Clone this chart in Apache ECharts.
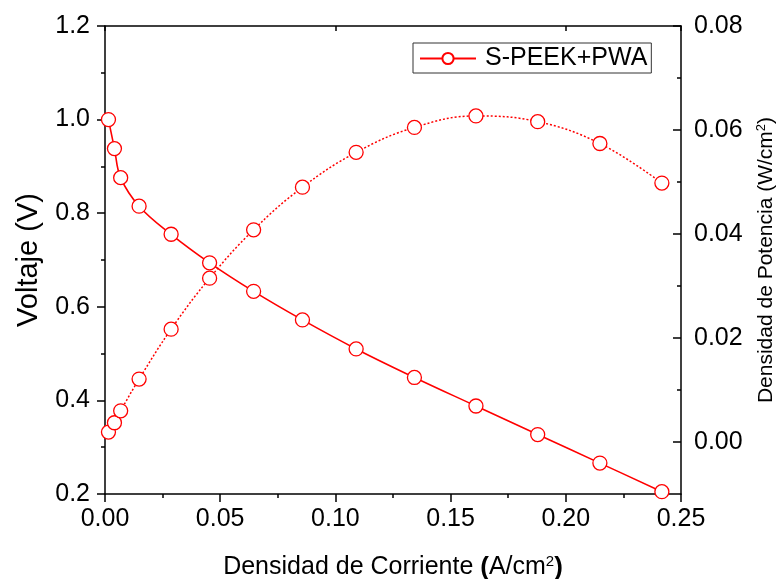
<!DOCTYPE html>
<html>
<head>
<meta charset="utf-8">
<script src="https://cdn.jsdelivr.net/npm/echarts@6/dist/echarts.min.js"></script>
<style>html,body{margin:0;padding:0;background:#fff;}#c{width:777px;height:579px;}</style>
</head>
<body>
<div id="c"></div>
<script>
// current density (A/cm2)
var currentDensity = [0.0015, 0.0041, 0.0068, 0.0148, 0.0287, 0.0454, 0.0645, 0.0857, 0.109, 0.1343, 0.161, 0.1878, 0.2148, 0.2417];
// voltage (V)
var voltage = [1.0, 0.938, 0.876, 0.815, 0.755, 0.694, 0.633, 0.572, 0.510, 0.449, 0.388, 0.327, 0.266, 0.205];
// power density (W/cm2)
var powerDensity = [0.0019, 0.0037, 0.006, 0.0121, 0.0217, 0.0315, 0.0408, 0.049, 0.0557, 0.0605, 0.0627, 0.0616, 0.0574, 0.0498];
var seriesName = 'S-PEEK+PWA';
var rightMajorTicks = [0, 0.02, 0.04, 0.06, 0.08];
var rightMinorTicks = [0.01, 0.03, 0.05, 0.07];

var FONT = '"Liberation Sans", Arial, sans-serif';
var RED = '#ff0000';

function pairs(xs, ys) { return xs.map(function (x, i) { return [x, ys[i]]; }); }
function aLine() { return { show: true, onZero: false, lineStyle: { color: '#000', width: 1.5 } }; }

var chart = echarts.init(document.getElementById('c'), null, { renderer: 'canvas' });
var option = {
  backgroundColor: '#fff',
  animation: false,
  grid: { left: 105, right: 96, top: 26, bottom: 85, containLabel: false, outerBoundsMode: 'none' },
  legend: {
    data: [seriesName],
    left: 413, top: 43,
    itemWidth: 56, itemHeight: 14, itemGap: 0,
    padding: [3, 4, 2, 6],
    borderColor: '#333', borderWidth: 1,
    textStyle: { fontFamily: FONT, fontSize: 25, color: '#000', padding: [2, 0, 0, 4] }
  },
  xAxis: [{
    type: 'value', min: 0, max: 0.25, interval: 0.05, position: 'bottom',
    axisLine: aLine(),
    axisTick: { show: true, inside: false, length: 8, lineStyle: { color: '#000', width: 1.5 } },
    minorTick: { show: true, splitNumber: 2, length: 4, lineStyle: { color: '#000', width: 1.5 } },
    splitLine: { show: false },
    axisLabel: { fontFamily: FONT, fontSize: 25, color: '#000', margin: 13,
      formatter: function (v) { return v.toFixed(2); } },
    name: 'Densidad de Corriente {b|(}A/cm{sup|2}{b|)}',
    nameLocation: 'middle', nameGap: 60,
    nameTextStyle: { fontFamily: FONT, fontSize: 25, color: '#000',
      rich: {
        b: { fontFamily: FONT, fontSize: 26, fontWeight: 'bold', color: '#000' },
        sup: { fontFamily: FONT, fontSize: 15, color: '#000', verticalAlign: 'top', padding: [0, 0, 12, 0] }
      } }
  }, {
    type: 'value', min: 0, max: 0.25, interval: 0.1, position: 'top',
    axisLine: aLine(),
    axisTick: { show: true, inside: true, length: 5, lineStyle: { color: '#000', width: 1.5 } },
    axisLabel: { show: false }, splitLine: { show: false }
  }],
  yAxis: [{
    type: 'value', min: 0.2, max: 1.2, interval: 0.2, position: 'left',
    axisLine: aLine(),
    axisTick: { show: true, inside: false, length: 8, lineStyle: { color: '#000', width: 1.5 } },
    minorTick: { show: true, splitNumber: 2, length: 4, lineStyle: { color: '#000', width: 1.5 } },
    splitLine: { show: false },
    axisLabel: { fontFamily: FONT, fontSize: 25, color: '#000', margin: 15,
      formatter: function (v) { return v.toFixed(1); } },
    name: 'Voltaje (V)', nameLocation: 'middle', nameGap: 62, nameRotate: 90,
    nameTextStyle: { fontFamily: FONT, fontSize: 29, color: '#000' }
  }, {
    type: 'value', min: -0.01, max: 0.08, interval: 0.01, position: 'right',
    axisLine: aLine(),
    axisTick: { show: true, inside: true, length: 8, customValues: rightMajorTicks,
      lineStyle: { color: '#000', width: 1.5 } },
    splitLine: { show: false },
    axisLabel: { fontFamily: FONT, fontSize: 25, color: '#000', margin: 13, customValues: rightMajorTicks,
      formatter: function (v) { return v.toFixed(2); } },
    name: 'Densidad de Potencia (W/cm{sup|2})', nameLocation: 'middle', nameGap: 74, nameRotate: 90,
    nameTextStyle: { fontFamily: FONT, fontSize: 21, color: '#000',
      rich: { sup: { fontFamily: FONT, fontSize: 13, color: '#000', verticalAlign: 'top', padding: [0, 0, 10, 0] } } }
  }, {
    type: 'value', min: -0.01, max: 0.08, interval: 0.01, position: 'right',
    axisLine: { show: false, onZero: false },
    axisTick: { show: true, inside: true, length: 4, customValues: rightMinorTicks,
      lineStyle: { color: '#000', width: 1.5 } },
    splitLine: { show: false },
    axisLabel: { show: false }
  }],
  series: [{
    name: seriesName, type: 'line', xAxisIndex: 0, yAxisIndex: 0,
    data: pairs(currentDensity, voltage),
    smooth: 0.4, clip: true,
    symbol: 'circle', symbolSize: 14, showAllSymbol: true,
    lineStyle: { color: RED, width: 1.6, type: 'solid' },
    itemStyle: { color: '#fff', borderColor: RED, borderWidth: 1.3 }
  }, {
    name: 'power', type: 'line', xAxisIndex: 0, yAxisIndex: 1,
    data: pairs(currentDensity, powerDensity),
    smooth: 0.4,
    symbol: 'circle', symbolSize: 14, showAllSymbol: true,
    lineStyle: { color: RED, width: 1.5, type: [2, 2] },
    itemStyle: { color: '#fff', borderColor: RED, borderWidth: 1.3 }
  }]
};
chart.setOption(option);
</script>
</body>
</html>
